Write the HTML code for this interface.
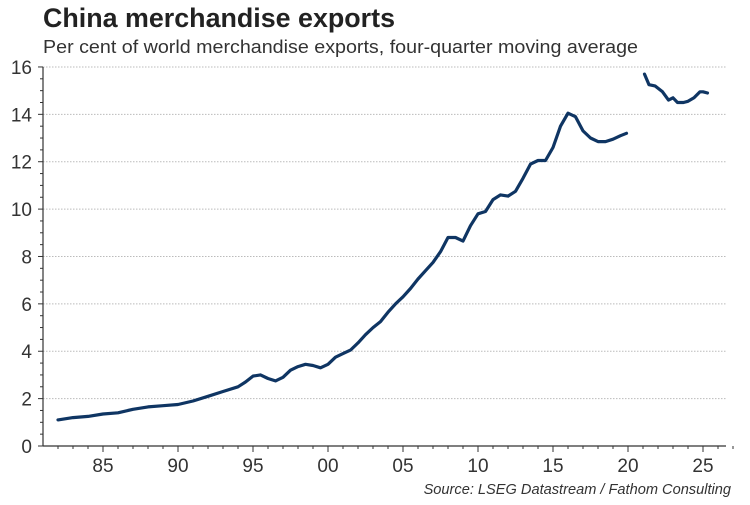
<!DOCTYPE html>
<html><head><meta charset="utf-8"><style>
body{margin:0;background:#fff;width:750px;height:500px;overflow:hidden;font-family:"Liberation Sans",Arial,sans-serif}
</style></head><body>
<svg id="chart" width="750" height="500" xmlns="http://www.w3.org/2000/svg" font-family="Liberation Sans, Arial, sans-serif">
<text x="43" y="27" font-size="26.5" font-weight="bold" fill="#222" textLength="352" lengthAdjust="spacingAndGlyphs">China merchandise exports</text>
<text x="43" y="53" font-size="18" fill="#333" textLength="595" lengthAdjust="spacingAndGlyphs">Per cent of world merchandise exports, four-quarter moving average</text>
<text x="731" y="494" font-size="14.6" font-style="italic" fill="#333" text-anchor="end">Source: LSEG Datastream / Fathom Consulting</text>
<g id="grid"></g><g id="axes"></g><g id="series"></g>
</svg>
<script>
const yTicks=[0,2,4,6,8,10,12,14,16];
const xTickYears=[1985,1990,1995,2000,2005,2010,2015,2020,2025];
const xTickLabels=["85","90","95","00","05","10","15","20","25"];
const seg1Years=[1982,1983,1984,1985,1986,1987,1988,1989,1990,1991,1992,1993,1994,1994.5,1995,1995.5,1996,1996.5,1997,1997.5,1998,1998.5,1999,1999.5,2000,2000.5,2001,2001.5,2002,2002.5,2003,2003.5,2004,2004.5,2005,2005.5,2006,2006.5,2007,2007.5,2008,2008.5,2009,2009.5,2010,2010.5,2011,2011.5,2012,2012.5,2013,2013.5,2014,2014.5,2015,2015.5,2016,2016.5,2017,2017.5,2018,2018.5,2019,2019.5,2019.9];
const seg1Values=[1.1,1.2,1.25,1.35,1.4,1.55,1.65,1.7,1.75,1.9,2.1,2.3,2.5,2.7,2.95,3.0,2.85,2.75,2.9,3.2,3.35,3.45,3.4,3.3,3.45,3.75,3.9,4.05,4.35,4.7,5.0,5.25,5.65,6.0,6.3,6.65,7.05,7.4,7.75,8.2,8.8,8.8,8.65,9.3,9.8,9.9,10.4,10.6,10.55,10.75,11.3,11.9,12.05,12.05,12.6,13.5,14.05,13.9,13.3,13.0,12.85,12.85,12.95,13.1,13.2];
const seg2Years=[2021.1,2021.4,2021.8,2022.3,2022.7,2023.0,2023.3,2023.7,2024.0,2024.4,2024.8,2025.0,2025.3];
const seg2Values=[15.7,15.25,15.2,14.95,14.6,14.7,14.5,14.5,14.55,14.7,14.95,14.95,14.9];
const x=yr=>103+(yr-1985)*15;
const y=v=>446-v*23.69;
const NS="http://www.w3.org/2000/svg";
function mk(tag,attrs,parent){const e=document.createElementNS(NS,tag);for(const k in attrs)e.setAttribute(k,attrs[k]);document.getElementById(parent).appendChild(e);return e;}
const L=43,R=726;
yTicks.forEach(t=>{
  if(t>0){const g=mk('line',{x1:L,x2:R,y1:y(t),y2:y(t),stroke:'#bbb','stroke-width':1,'stroke-dasharray':'1.5,1.5'},'grid');
  
  }
  const lb=mk('text',{x:32,y:y(t)+7,'font-size':19,fill:'#333','text-anchor':'end'},'axes');lb.textContent=t;
  
  
});
for(let v=0;v<=16;v+=0.5){mk('line',{x1:v%2===0?38:40,x2:L,y1:y(v),y2:y(v),stroke:'#333','stroke-width':1},'axes');}
const ya=mk('line',{x1:L,x2:L,y1:y(16),y2:y(0),stroke:'#333','stroke-width':1.2},'axes');


const xa=mk('line',{x1:L,x2:R,y1:y(0),y2:y(0),stroke:'#333','stroke-width':1.2},'axes');


for(let yr=1982;yr<=2027;yr++){const maj=yr%5===0;mk('line',{x1:x(yr),x2:x(yr),y1:y(0),y2:y(0)+(maj?6:3),stroke:'#333','stroke-width':1},'axes');}
xTickYears.forEach((yr,i)=>{const lb=mk('text',{x:x(yr),y:472,'font-size':19,fill:'#333','text-anchor':'middle'},'axes');lb.textContent=xTickLabels[i];

});
function line(ys,vs,name){const p=mk('path',{d:ys.map((yr,i)=>(i?'L':'M')+x(yr).toFixed(1)+','+y(vs[i]).toFixed(1)).join(''),fill:'none',stroke:'#0f3563','stroke-width':3.2,'stroke-linejoin':'round','stroke-linecap':'round'},'series');

}
line(seg1Years,seg1Values,'export-share-line-to-2019');
line(seg2Years,seg2Values,'export-share-line-from-2021');
</script>
</body></html>
